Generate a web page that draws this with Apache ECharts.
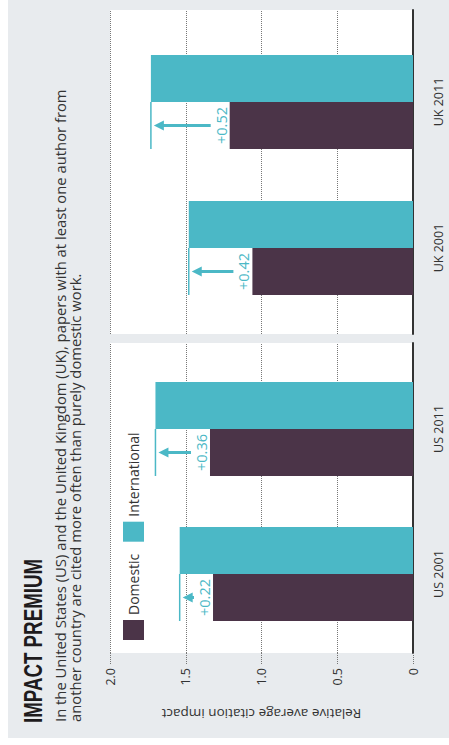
<!DOCTYPE html>
<html>
<head>
<meta charset="utf-8">
<script src="https://cdn.jsdelivr.net/npm/echarts@6/dist/echarts.min.js"></script>
<style>
html,body{margin:0;padding:0;background:#ffffff;overflow:hidden;width:449px;height:745px;}
#chart{position:absolute;left:0;top:0;width:745px;height:449px;transform-origin:0 0;transform:translate(0,745px) rotate(-90deg);}
</style>
</head>
<body>
<div id="chart"></div>
<script>
// ---- data ----
const categoriesUS = ['US 2001', 'US 2011'];
const categoriesUK = ['UK 2001', 'UK 2011'];
const domesticUS = [1.32, 1.34];
const internationalUS = [1.54, 1.70];
const domesticUK = [1.06, 1.21];
const internationalUK = [1.48, 1.73];
const valueTicks = ['0', '0.5', '1.0', '1.5', '2.0'];
const seriesNames = ['Domestic', 'International'];
const titleText = 'IMPACT PREMIUM';
const subtitleLines = [
  'In the United States (US) and the United Kingdom (UK), papers with at least one author from',
  'another country are cited more often than purely domestic work.'
];
const axisTitle = 'Relative average citation impact';

// ---- styles ----
const TEAL = '#4bb8c6';
const PLUM = '#4b3448';
const BARW = 47;
const BODY_FONT = 'Open Sans, Liberation Sans, sans-serif';

const chart = echarts.init(document.getElementById('chart'), null, {renderer: 'svg'});

function annot(params, api) {
  const cat = api.value(0), dom = api.value(1), intl = api.value(2);
  const pDom = api.coord([cat, dom]);
  const pInt = api.coord([cat, intl]);
  const cx = pDom[0] - BARW / 2;
  const diff = '+' + (intl - dom).toFixed(2);
  const yStart = pDom[1] - 19;
  const yTip = pInt[1] + 3;
  const headLen = 10, headHalf = 5;
  const children = [
    {type: 'line', shape: {x1: pDom[0] - BARW, y1: pInt[1], x2: pDom[0], y2: pInt[1]}, style: {stroke: TEAL, lineWidth: 1.5}},
    {type: 'polygon', shape: {points: [[cx, yTip], [cx - headHalf, yTip + headLen], [cx + headHalf, yTip + headLen]]}, style: {fill: TEAL}},
    {type: 'text', x: cx, y: pDom[1] - 1, style: {text: diff, fill: TEAL, fontSize: 14.5, fontFamily: BODY_FONT, align: 'center', verticalAlign: 'bottom'}}
  ];
  if (yStart > yTip + headLen) {
    children.push({type: 'line', shape: {x1: cx, y1: yStart, x2: cx, y2: yTip + headLen - 1}, style: {stroke: TEAL, lineWidth: 3}});
  }
  return {type: 'group', children: children};
}

function zip3(d, i) { return d.map((v, k) => [k, v, i[k]]); }

const valueLabel = v => valueTicks[Math.round(v / 0.5)];

const option = {
  backgroundColor: '#ffffff',
  animation: false,
  graphic: [
    {type: 'rect', shape: {x: 7, y: 8, width: 738, height: 441}, style: {fill: '#e8ebee'}, z: -10, silent: true},
    {type: 'text', x: 22, y: 34, scaleX: 0.75, silent: true,
      style: {text: titleText, fontFamily: 'Liberation Sans, Arial, sans-serif', fontWeight: 'bold', fontSize: 25, fill: '#1e1b1d', verticalAlign: 'middle'}},
    {type: 'text', x: 23, y: 52, silent: true,
      style: {text: subtitleLines.join('\n'), fontFamily: BODY_FONT, fontSize: 14.8, lineHeight: 15, fill: '#333333', verticalAlign: 'top'}}
  ],
  legend: {
    left: 100, top: 118, itemWidth: 20, itemHeight: 21, itemGap: 12, icon: 'rect',
    data: seriesNames,
    textStyle: {fontFamily: BODY_FONT, fontSize: 14, color: '#333333'}
  },
  grid: [
    {left: 92, width: 310, top: 110, height: 303, show: true, backgroundColor: '#ffffff', borderWidth: 0},
    {left: 411, width: 324, top: 110, height: 303, show: true, backgroundColor: '#ffffff', borderWidth: 0},
    {left: 98.5, width: 290, top: 110, height: 303},
    {left: 424, width: 292, top: 110, height: 303}
  ],
  xAxis: [
    {gridIndex: 0, type: 'category', data: categoriesUS, axisLine: {lineStyle: {color: '#333', width: 2}}, axisTick: {show: false}, axisLabel: {show: false}},
    {gridIndex: 1, type: 'category', data: categoriesUK, axisLine: {lineStyle: {color: '#333', width: 2}}, axisTick: {show: false}, axisLabel: {show: false}},
    {gridIndex: 2, type: 'category', data: categoriesUS, axisLine: {show: false},
      axisTick: {alignWithLabel: true, length: 5, lineStyle: {color: '#333'}},
      axisLabel: {margin: 19, fontFamily: BODY_FONT, fontSize: 12.5, color: '#333'}},
    {gridIndex: 3, type: 'category', data: categoriesUK, axisLine: {show: false},
      axisTick: {alignWithLabel: true, length: 5, lineStyle: {color: '#333'}},
      axisLabel: {margin: 19, fontFamily: BODY_FONT, fontSize: 12.5, color: '#333'}}
  ],
  yAxis: [
    {gridIndex: 0, type: 'value', min: 0, max: 2, interval: 0.5,
      name: axisTitle, nameLocation: 'middle', nameGap: 54, nameRotate: 90,
      nameTextStyle: {fontFamily: BODY_FONT, fontSize: 13.5, color: '#333'},
      axisLine: {show: false},
      axisTick: {show: true, length: 12, lineStyle: {type: 'dotted', color: '#777'}},
      axisLabel: {margin: 15, formatter: valueLabel, fontFamily: BODY_FONT, fontSize: 12.5, color: '#333'},
      splitLine: {lineStyle: {type: 'dotted', color: '#777'}}},
    {gridIndex: 1, type: 'value', min: 0, max: 2, interval: 0.5,
      axisLine: {show: false}, axisTick: {show: false}, axisLabel: {show: false},
      splitLine: {lineStyle: {type: 'dotted', color: '#777'}}},
    {gridIndex: 2, type: 'value', min: 0, max: 2, show: false},
    {gridIndex: 3, type: 'value', min: 0, max: 2, show: false}
  ],
  series: [
    {name: seriesNames[0], type: 'bar', xAxisIndex: 2, yAxisIndex: 2, data: domesticUS, barWidth: BARW, barGap: '0%', itemStyle: {color: PLUM}, z: 3},
    {name: seriesNames[1], type: 'bar', xAxisIndex: 2, yAxisIndex: 2, data: internationalUS, barWidth: BARW, barGap: '0%', itemStyle: {color: TEAL}, z: 3},
    {name: seriesNames[0], type: 'bar', xAxisIndex: 3, yAxisIndex: 3, data: domesticUK, barWidth: BARW, barGap: '0%', itemStyle: {color: PLUM}, z: 3},
    {name: seriesNames[1], type: 'bar', xAxisIndex: 3, yAxisIndex: 3, data: internationalUK, barWidth: BARW, barGap: '0%', itemStyle: {color: TEAL}, z: 3},
    {type: 'custom', xAxisIndex: 2, yAxisIndex: 2, data: zip3(domesticUS, internationalUS), renderItem: annot, z: 5, silent: true},
    {type: 'custom', xAxisIndex: 3, yAxisIndex: 3, data: zip3(domesticUK, internationalUK), renderItem: annot, z: 5, silent: true}
  ]
};
chart.setOption(option);
</script>
</body>
</html>
